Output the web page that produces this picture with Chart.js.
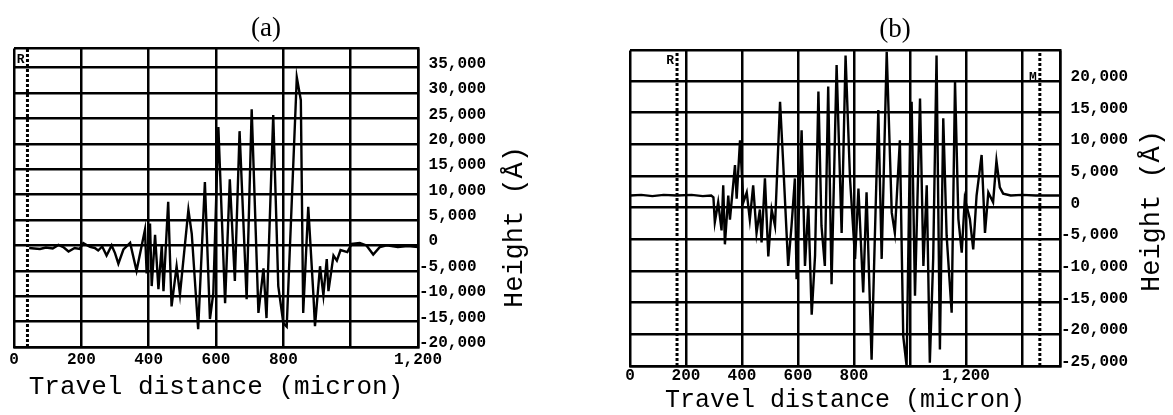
<!DOCTYPE html>
<html>
<head>
<meta charset="utf-8">
<script src="https://cdn.jsdelivr.net/npm/chart.js@4.4.1/dist/chart.umd.min.js"></script>
<style>
	body { margin: 0; background: #fff; }
	canvas { position: absolute; top: 0; }
	#chartA { left: 0; }
	#chartB { left: 585px; }
</style>
</head>
<body>
<canvas id="chartA" width="560" height="415"></canvas>
<canvas id="chartB" width="588" height="415"></canvas>
<script>
// Panel (a): travel distance (micron) / height (Å)
const distanceA = [45, 60, 77, 95, 115, 132, 148, 162, 180, 195, 206, 226, 240, 250, 262, 275, 290, 300,
	310, 325, 345, 364, 389, 394, 404, 409, 419, 429, 439, 444, 458, 468, 483, 493, 518, 528, 547, 567,
	582, 592, 607, 627, 641, 656, 670, 691, 706, 726, 741, 750, 770, 785, 800, 810, 840, 852, 859, 874,
	889, 894, 909, 919, 929, 934, 949, 959, 970, 990, 1003, 1027, 1047, 1067, 1087, 1107, 1140, 1170, 1200];
const heightA = [-500, -600, -700, -400, -600, 100, -400, -1200, -500, -700, 450, -300, -500, -1000, -200, -2000, 0, -1500,
	-3600, -800, 500, -5000, 3100, -5500, 4300, -8000, 2100, -8600, 0, -9000, 8600, -12000, -4100, -9600, 7000, 2300, -16500, 12500,
	-14500, -9400, 23300, -11400, 13000, -7000, 22500, -10600, 26800, -13300, -4500, -14300, 25700, -8000, -15300, -16000, 33100, 28600, -13300, 7600,
	-9400, -15900, -4100, -9800, -2700, -9000, -2000, -3000, -900, -1300, 300, 500, 0, -1800, -300, 0, -300, -100, -300];
const cursorsA = [40];
const cursorLabelsA = ['R'];
const xTicksA = [0, 200, 400, 600, 800, 1000, 1200];
const xLabelsA = ['0', '200', '400', '600', '800', '', '1,200'];
const yTicksA = [-20000, -15000, -10000, -5000, 0, 5000, 10000, 15000, 20000, 25000, 30000, 35000, 38800];
const yLabelsA = ['-20,000', '-15,000', '-10,000', '-5,000', ' 0', ' 5,000', ' 10,000', ' 15,000', ' 20,000', ' 25,000', ' 30,000', ' 35,000', ''];

// Panel (b)
const distanceB = [0, 40, 80, 120, 168, 220, 260, 290, 298, 303, 315, 327, 333, 339, 351, 357, 375, 381, 393, 405,
	417, 428, 440, 452, 464, 470, 482, 494, 506, 518, 536, 547, 565, 577, 589, 595, 613, 619, 625, 637,
	649, 661, 673, 684, 696, 708, 720, 738, 756, 770, 786, 804, 816, 833, 845, 863, 875, 887, 899, 917,
	935, 946, 964, 976, 988, 1000, 1006, 1018, 1036, 1048, 1060, 1071, 1083, 1095, 1107, 1119, 1131, 1149, 1161, 1173,
	1185, 1196, 1214, 1226, 1238, 1256, 1268, 1280, 1297, 1309, 1321, 1333, 1360, 1400, 1450, 1536];
const heightB = [1900, 2000, 1800, 2000, 1900, 2000, 1800, 1900, 1600, -2300, 850, -3600, 3500, -5800, 1900, -1900, 6700, 1400, 10600, 850,
	2400, -1900, 3500, -4000, -300, -5500, 4600, -7700, -300, -2900, 16700, 7200, -9200, -2900, 4600, -11300, 12200, 1900, -9200, 300,
	-16900, -7600, 18300, -2900, -9200, 19100, -12100, 22500, -4000, 24000, 4500, -8100, 3000, -13400, 2400, -24000, -4000, 15400, -8100, 24600,
	-800, -4000, 10600, -20300, -25000, 9800, 16700, -13900, 17200, -9200, 3500, -24500, -8100, 24000, -22400, 14100, -4400, -16600, 19900, -1800,
	-7100, 1400, -1800, -6600, 1900, 8300, -4000, 2400, 850, 7400, 3200, 2200, 1900, 2000, 1900, 1900];
const cursorsB = [168, 1464];
const cursorLabelsB = ['R', 'M'];
const xTicksB = [0, 200, 400, 600, 800, 1000, 1200, 1400, 1536];
const xLabelsB = ['0', '200', '400', '600', '800', '', '1,200', '', ''];
const yTicksB = [-25000, -20000, -15000, -10000, -5000, 0, 5000, 10000, 15000, 20000, 24800];
const yLabelsB = ['-25,000', '-20,000', '-15,000', '-10,000', '-5,000', ' 0', ' 5,000', ' 10,000', ' 15,000', ' 20,000', ''];

const tickFont = { family: '"Liberation Mono", monospace', size: 16, weight: 'bold' };

function toPoints(xs, ys) {
	return xs.map((x, i) => ({ x: x, y: ys[i] }));
}

// y title reads bottom to top, plus the cursor letters
const panelText = {
	id: 'panelText',
	afterDraw(chart, args, opts) {
		const ctx = chart.ctx;
		ctx.save();
		ctx.fillStyle = '#000';
		ctx.textAlign = 'center';
		ctx.textBaseline = 'middle';
		ctx.font = opts.titleSize + 'px "Liberation Mono", monospace';
		ctx.translate(opts.titleX, opts.titleY);
		ctx.rotate(-Math.PI / 2);
		ctx.fillText('Height (Å)', 0, 0);
		ctx.restore();

		ctx.save();
		ctx.fillStyle = '#000';
		ctx.font = 'bold 13px "Liberation Mono", monospace';
		ctx.textAlign = 'right';
		ctx.textBaseline = 'middle';
		opts.cursors.forEach((c, i) => {
			const px = chart.scales.x.getPixelForValue(c);
			ctx.fillText(opts.cursorLabels[i], px - 3, chart.chartArea.top + opts.letterDy[i]);
		});
		ctx.restore();
	}
};

function makeChart(id, cfg) {
	const yMin = cfg.yTicks[0];
	const yMax = cfg.yTicks[cfg.yTicks.length - 1];
	const cursorSets = cfg.cursors.map(c => ({
		data: [{ x: c, y: yMin }, { x: c, y: yMax }],
		borderColor: '#000',
		borderWidth: 3,
		borderDash: [3, 2],
		pointRadius: 0
	}));
	return new Chart(document.getElementById(id).getContext('2d'), {
		type: 'line',
		data: {
			datasets: [{
				data: toPoints(cfg.xs, cfg.ys),
				borderColor: '#000',
				borderWidth: 2.4,
				pointRadius: 0,
				tension: 0
			}].concat(cursorSets)
		},
		options: {
			responsive: false,
			animation: false,
			events: [],
			layout: { padding: { left: cfg.padLeft, right: cfg.padRight, top: 0, bottom: 0 } },
			scales: {
				x: {
					type: 'linear',
					min: cfg.xTicks[0],
					max: cfg.xTicks[cfg.xTicks.length - 1],
					afterBuildTicks: axis => { axis.ticks = cfg.xTicks.map(v => ({ value: v })); },
					ticks: {
						autoSkip: false,
						maxRotation: 0,
						padding: cfg.xTickPad,
						color: '#000',
						font: tickFont,
						callback: (v, i) => cfg.xLabels[i]
					},
					grid: { color: '#000', lineWidth: 2.5, drawTicks: false },
					border: { color: '#000', width: 2.5 },
					title: {
						display: true,
						text: 'Travel distance (micron)',
						color: '#000',
						font: { family: '"Liberation Mono", monospace', size: cfg.xTitleSize },
						padding: { top: 0, bottom: cfg.xTitlePad }
					},
					afterFit: s => { s.height = cfg.xHeight; }
				},
				y: {
					type: 'linear',
					position: 'right',
					min: yMin,
					max: yMax,
					afterBuildTicks: axis => { axis.ticks = cfg.yTicks.map(v => ({ value: v })); },
					ticks: {
						autoSkip: false,
						padding: 1,
						labelOffset: -4,
						color: '#000',
						font: tickFont,
						callback: (v, i) => cfg.yLabels[i]
					},
					grid: { color: '#000', lineWidth: 2.5, drawTicks: false },
					border: { color: '#000', width: 2.5 },
					afterFit: s => { s.width = cfg.yWidth; }
				}
			},
			plugins: {
				legend: { display: false },
				tooltip: { enabled: false },
				title: {
					display: true,
					text: cfg.title,
					color: '#000',
					font: { family: '"Liberation Serif", serif', size: 27, weight: 'normal' },
					padding: cfg.titlePad
				},
				panelText: {
					titleX: cfg.yTitleX,
					titleY: cfg.yTitleY,
					titleSize: cfg.yTitleSize,
					cursors: cfg.cursors,
					cursorLabels: cfg.cursorLabels,
					letterDy: cfg.letterDy
				}
			}
		},
		plugins: [panelText]
	});
}

makeChart('chartA', {
	title: '(a)', xs: distanceA, ys: heightA,
	cursors: cursorsA, cursorLabels: cursorLabelsA, letterDy: [11],
	xTicks: xTicksA, xLabels: xLabelsA, yTicks: yTicksA, yLabels: yLabelsA,
	padLeft: 14, padRight: 42, yWidth: 100, xHeight: 68,
	titlePad: { top: 13, bottom: 3 }, xTickPad: 3, xTitleSize: 26, xTitlePad: 12,
	yTitleX: 515, yTitleY: 227, yTitleSize: 27
});

makeChart('chartB', {
	title: '(b)', xs: distanceB, ys: heightB,
	cursors: cursorsB, cursorLabels: cursorLabelsB, letterDy: [10, 27],
	xTicks: xTicksB, xLabels: xLabelsB, yTicks: yTicksB, yLabels: yLabelsB,
	padLeft: 45, padRight: 13, yWidth: 100, xHeight: 49,
	titlePad: { top: 14, bottom: 4 }, xTickPad: 0, xTitleSize: 25, xTitlePad: 0,
	yTitleX: 567, yTitleY: 211, yTitleSize: 27
});
</script>
</body>
</html>
